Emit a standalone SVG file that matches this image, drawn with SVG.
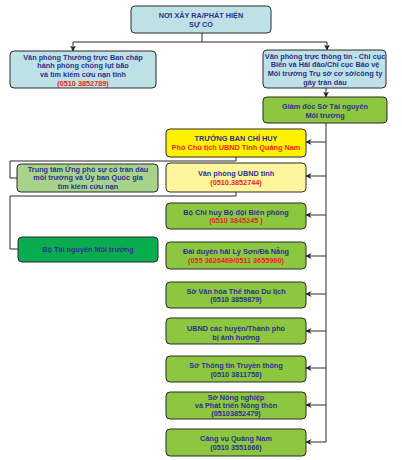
<svg xmlns="http://www.w3.org/2000/svg" width="402" height="460" viewBox="0 0 402 460">
<defs>
<marker id="arr" markerWidth="6" markerHeight="6" refX="5.5" refY="3" orient="auto" markerUnits="userSpaceOnUse">
<path d="M0,0 L6,3 L0,6 L1.8,3 z" fill="#222"/>
</marker>
<style>
.box{stroke:#2b2b2b;stroke-width:1}
.blue{fill:#bde1e4}
.green{fill:#8dc63f}
.lgreen{fill:#a7d48a}
.dgreen{fill:#0aac50}
.yellow{fill:#fff200}
.lyellow{fill:#fff59d}
text{font-family:"Liberation Sans","Open Sans",Arial,sans-serif;font-size:7.3px;font-weight:bold;text-anchor:middle}
.t{fill:#2e3192}
.r{fill:#ed1c24}
.c{fill:none;stroke:#2b2b2b;stroke-width:1}
.ca{fill:none;stroke:#2b2b2b;stroke-width:1;marker-end:url(#arr)}
</style>
</defs>
<g id="connectors">
<path class="c" d="M202,33 V42 M73,42 H327"/>
<path class="ca" d="M73,42 V51"/>
<path class="ca" d="M327,42 V50"/>
<path class="ca" d="M326,88 V97"/>
<path class="c" d="M326,123 V442"/>
<path class="ca" d="M326,142 H306"/>
<path class="ca" d="M326,176 H306"/>
<path class="ca" d="M326,215 H306"/>
<path class="ca" d="M326,256 H306"/>
<path class="ca" d="M326,294 H306"/>
<path class="ca" d="M326,331 H306"/>
<path class="ca" d="M326,368 H306"/>
<path class="ca" d="M326,405 H306"/>
<path class="ca" d="M326,442 H306"/>
<path class="c" d="M236,157 V161 H10 V178 H17"/>
<path class="c" d="M236,192 V196 H10 V249 H18"/>
</g>
<g id="n_top">
<rect class="box blue" x="131" y="6" width="140" height="27" rx="4"/>
<text class="t" x="201" y="17.5">NƠI XẢY RA/PHÁT HIỆN</text>
<text class="t" x="201" y="26.5">SỰ CỐ</text>
</g>
<g id="n_vpthuongtruc">
<rect class="box blue" x="10" y="51" width="146" height="37" rx="4"/>
<text class="t" x="83" y="59.5">Văn phòng Thường trực Ban chấp</text>
<text class="t" x="83" y="68.2">hành phòng chống lụt bão</text>
<text class="t" x="83" y="76.8">và tìm kiếm cứu nạn tỉnh</text>
<text class="r" x="83" y="85.5">(0510 3852789)</text>
</g>
<g id="n_vptructhongtin">
<rect class="box blue" x="263" y="50" width="123" height="38" rx="4"/>
<text class="t" x="325" y="58.5">Văn phòng trực thông tin - Chi cục</text>
<text class="t" x="325" y="67.2">Biển và Hải đảo/Chi cục Bảo vệ</text>
<text class="t" x="325" y="76">Môi trường Trụ sở cơ sở/công ty</text>
<text class="t" x="325" y="84.8">gây tràn dầu</text>
</g>
<g id="n_giamdoc">
<rect class="box green" x="263" y="97" width="124" height="26" rx="4"/>
<text class="t" x="325" y="108.5">Giám đốc Sở Tài nguyên</text>
<text class="t" x="325" y="117.5">Môi trường</text>
</g>
<g id="n_truongban">
<rect class="box yellow" x="166" y="129" width="140" height="28" rx="4"/>
<text class="t" x="236" y="140.5">TRƯỞNG BAN CHỈ HUY</text>
<text class="r" x="236" y="149.5">Phó Chủ tịch UBND Tỉnh Quảng Nam</text>
</g>
<g id="n_trungtam">
<rect class="box lgreen" x="17" y="164" width="141" height="28" rx="4"/>
<text class="t" x="88" y="171.5">Trung tâm Ứng phó sự cố tràn dầu</text>
<text class="t" x="88" y="180">môi trường và Ủy ban Quốc gia</text>
<text class="t" x="88" y="188.5">tìm kiếm cứu nạn</text>
</g>
<g id="n_vpubnd">
<rect class="box lyellow" x="166" y="163" width="140" height="29" rx="4"/>
<text class="t" x="236" y="175.5">Văn phòng UBND tỉnh</text>
<text class="r" x="236" y="184.5">(0510.3852744)</text>
</g>
<g id="n_botnmt">
<rect class="box dgreen" x="18" y="237" width="140" height="25" rx="4"/>
<text class="t" x="88" y="251.5">Bộ Tài nguyên Môi trường</text>
</g>
<g id="n_bienphong">
<rect class="box green" x="166" y="203" width="140" height="26" rx="4"/>
<text class="t" x="236" y="214.5">Bộ Chỉ huy Bộ đội Biên phòng</text>
<text class="r" x="236" y="222.8">(0510 3845245 )</text>
</g>
<g id="n_daiduyenhai">
<rect class="box green" x="166" y="242" width="140" height="27" rx="4"/>
<text class="t" x="236" y="253.5">Đài duyên hải Lý Sơn/Đà Nẵng</text>
<text class="r" x="236" y="262.5">(055 3626469/0511 3655960)</text>
</g>
<g id="n_vanhoa">
<rect class="box green" x="166" y="282" width="140" height="26" rx="4"/>
<text class="t" x="236" y="293.5">Sở Văn hóa Thể thao Du lịch</text>
<text class="t" x="236" y="301.8">(0510 3859879)</text>
</g>
<g id="n_ubndhuyen">
<rect class="box green" x="166" y="318" width="140" height="26" rx="4"/>
<text class="t" x="236" y="330.5">UBND các huyện/Thành phố</text>
<text class="t" x="236" y="339.5">bị ảnh hưởng</text>
</g>
<g id="n_thongtin">
<rect class="box green" x="166" y="356" width="140" height="26" rx="4"/>
<text class="t" x="236" y="367.5">Sở Thông tin Truyền thông</text>
<text class="t" x="236" y="376.5">(0510 3811758)</text>
</g>
<g id="n_nongnghiep">
<rect class="box green" x="166" y="392" width="140" height="27" rx="4"/>
<text class="t" x="236" y="399.5">Sở Nông nghiệp</text>
<text class="t" x="236" y="407.8">và Phát triển Nông thôn</text>
<text class="t" x="236" y="416">(05103852479)</text>
</g>
<g id="n_cangvu">
<rect class="box green" x="166" y="429" width="140" height="27" rx="4"/>
<text class="t" x="236" y="440.5">Cảng vụ Quảng Nam</text>
<text class="t" x="236" y="449.5">(0510 3551666)</text>
</g>
</svg>
